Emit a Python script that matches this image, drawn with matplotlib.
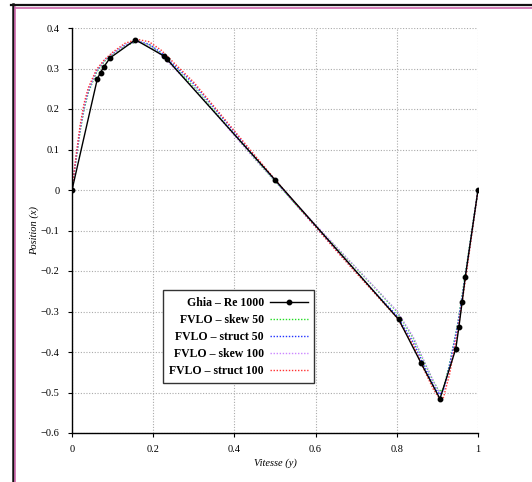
import matplotlib
matplotlib.use("Agg")
import matplotlib.pyplot as plt
from matplotlib.lines import Line2D

plt.rcParams['font.family'] = ['Liberation Serif', 'DejaVu Serif']
plt.rcParams['mathtext.fontset'] = 'stix'

# Ghia et al. reference, Re = 1000
ghia_x = [1.0000, 0.9688, 0.9609, 0.9531, 0.9453, 0.9063, 0.8594, 0.8047, 0.5000,
          0.2344, 0.2266, 0.1563, 0.0938, 0.0781, 0.0703, 0.0625, 0.0000]
ghia_v = [0.00000, -0.21388, -0.27669, -0.33714, -0.39188, -0.51550, -0.42665, -0.31966,
          0.02526, 0.32235, 0.33075, 0.37095, 0.32627, 0.30353, 0.29012, 0.27485, 0.00000]

# FVLO results
fv_x = [0.0, 0.01, 0.02, 0.03, 0.04, 0.06, 0.08, 0.10, 0.13, 0.16, 0.19, 0.22, 0.25,
        0.30, 0.35, 0.40, 0.45, 0.50, 0.55, 0.60, 0.65, 0.70, 0.75, 0.80, 0.84, 0.87,
        0.89, 0.905, 0.915, 0.93, 0.95, 0.97, 0.985, 1.0]
skew50 = [0.0, 0.075, 0.145, 0.200, 0.240, 0.290, 0.318, 0.336, 0.356, 0.366, 0.358, 0.335, 0.305,
          0.255, 0.196, 0.136, 0.077, 0.022, -0.034, -0.088, -0.140, -0.193, -0.246, -0.300, -0.365, -0.430,
          -0.472, -0.498, -0.490, -0.430, -0.330, -0.200, -0.100, 0.0]
struct50 = [0.0, 0.078, 0.150, 0.205, 0.244, 0.293, 0.320, 0.337, 0.358, 0.368, 0.360, 0.339, 0.310,
            0.262, 0.203, 0.143, 0.083, 0.024, -0.034, -0.091, -0.147, -0.202, -0.257, -0.310, -0.375, -0.440,
            -0.482, -0.505, -0.495, -0.432, -0.334, -0.204, -0.102, 0.0]
skew100 = [0.0, 0.080, 0.152, 0.207, 0.246, 0.294, 0.320, 0.337, 0.357, 0.366, 0.357, 0.333, 0.302,
           0.252, 0.193, 0.134, 0.077, 0.023, -0.032, -0.086, -0.139, -0.192, -0.245, -0.298, -0.362, -0.428,
           -0.472, -0.500, -0.494, -0.438, -0.338, -0.208, -0.104, 0.0]
struct100 = [0.0, 0.085, 0.160, 0.215, 0.252, 0.297, 0.322, 0.340, 0.362, 0.372, 0.366, 0.345, 0.315,
             0.266, 0.206, 0.146, 0.086, 0.026, -0.033, -0.091, -0.149, -0.205, -0.260, -0.315, -0.382, -0.450,
             -0.492, -0.515, -0.512, -0.455, -0.350, -0.215, -0.108, 0.0]

fig = plt.figure(figsize=(5.32, 4.82), dpi=100)
ax = fig.add_axes([72 / 532, 1 - 433 / 482, 406 / 532, 405 / 482])

ax.plot(ghia_x, ghia_v, color="black", lw=1.0, marker="o", ms=3.2,
        label="Ghia – Re 1000", zorder=5)
ax.plot(fv_x, skew50, color="#22dd22", lw=1.0, ls=(0, (1, 1.2)), label="FVLO – skew 50")
ax.plot(fv_x, struct50, color="#2233ff", lw=1.0, ls=(0, (1, 1.2)), label="FVLO – struct 50")
ax.plot(fv_x, skew100, color="#cc88ff", lw=1.0, ls=(0, (1, 1.2)), label="FVLO – skew 100")
ax.plot(fv_x, struct100, color="#ff3333", lw=1.0, ls=(0, (1, 1.2)), label="FVLO – struct 100")

ax.set_xlim(0, 1)
ax.set_ylim(-0.6, 0.4)
ax.set_xticks([0, 0.2, 0.4, 0.6, 0.8, 1])
ax.set_xticklabels(["0", "0.2", "0.4", "0.6", "0.8", "1"])
ax.set_yticks([-0.6, -0.5, -0.4, -0.3, -0.2, -0.1, 0, 0.1, 0.2, 0.3, 0.4])
ax.set_yticklabels(["\u22120.6", "\u22120.5", "\u22120.4", "\u22120.3", "\u22120.2", "\u22120.1",
                    "0", "0.1", "0.2", "0.3", "0.4"])
ax.tick_params(labelsize=7.5, length=3, width=0.8, direction="out", pad=6)
ax.grid(True, color="#aaaaaa", ls=(0, (1, 1.5)), lw=0.8)
ax.spines["top"].set_visible(False)
ax.spines["right"].set_visible(False)
ax.spines["left"].set_linewidth(1.0)
ax.spines["bottom"].set_linewidth(1.0)

ax.set_xlabel("Vitesse (y)", fontsize=7.5, style="italic", labelpad=3)
ax.set_ylabel("Position (x)", fontsize=7.5, style="italic", labelpad=1)

leg = ax.legend(loc="upper left", bbox_to_anchor=(0.224, 0.352), borderaxespad=0,
                markerfirst=False, prop={"weight": "bold", "size": 8.5}, fancybox=False,
                framealpha=1, edgecolor="#333333", handlelength=3.2, labelspacing=0.42,
                borderpad=0.55, handletextpad=0.5)
leg.get_frame().set_linewidth(1.0)
for t in leg.get_texts():
    t.set_ha("right")
leg._legend_box.align = "right"

# page frame (top and left only)
fig.add_artist(Line2D([11 / 532, 1], [1 - 5 / 482, 1 - 5 / 482], transform=fig.transFigure,
                      color="#111111", lw=1.6))
fig.add_artist(Line2D([14 / 532, 1], [1 - 7.5 / 482, 1 - 7.5 / 482], transform=fig.transFigure,
                      color="#cc66aa", lw=1.2))
fig.add_artist(Line2D([12.5 / 532, 12.5 / 532], [0, 1 - 4 / 482], transform=fig.transFigure,
                      color="#111111", lw=1.8))
fig.add_artist(Line2D([15 / 532, 15 / 532], [0, 1 - 7 / 482], transform=fig.transFigure,
                      color="#cc66aa", lw=1.2))

fig.savefig("out.png", dpi=100)
